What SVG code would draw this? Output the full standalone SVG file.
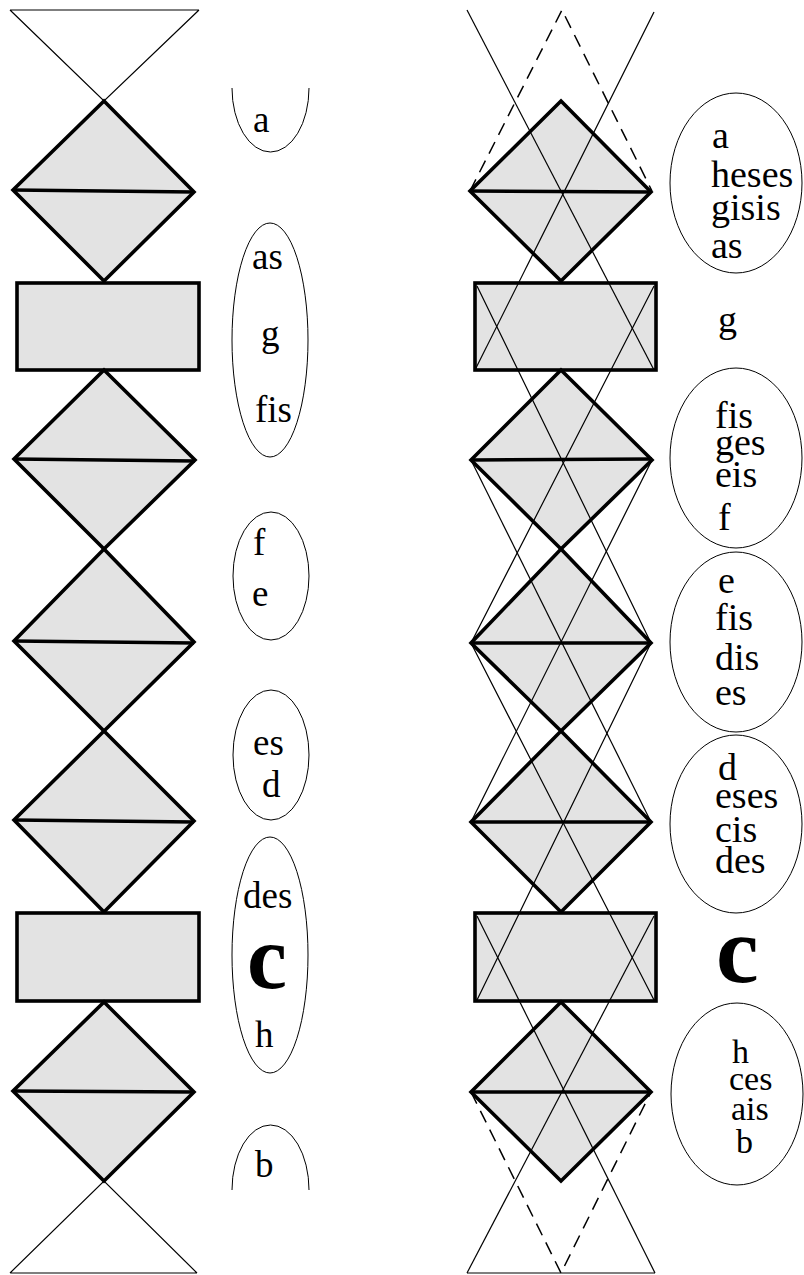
<svg xmlns="http://www.w3.org/2000/svg" width="804" height="1275" viewBox="0 0 804 1275">
<style>
.bg{fill:#ffffff}
.sh{fill:#e3e3e3;stroke:#000;stroke-width:3.6;stroke-linejoin:miter}
.mid{stroke:#000;stroke-width:3.6;fill:none}
.thin{stroke:#000;stroke-width:1.2;fill:none}
.dash{stroke:#000;stroke-width:1.5;fill:none;stroke-dasharray:13 8}
.ell{fill:#fff;stroke:#000;stroke-width:1}
.arc{fill:none;stroke:#000;stroke-width:1}
</style>
<rect class="bg" x="0" y="0" width="804" height="1275"/>

<!-- LEFT COLUMN -->
<g id="left-top-hourglass">
<path class="thin" d="M10,10 L199,10 M10,10 L104,101 L199,10"/>
</g>
<g id="left-diamond-1">
<polygon class="sh" points="104,101 194,192 104,281 13,190"/>
<line class="mid" x1="13" y1="190" x2="194" y2="192"/>
</g>
<g id="left-rect-1"><rect class="sh" x="17" y="283" width="182" height="87"/></g>
<g id="left-diamond-2">
<polygon class="sh" points="104,370 195,460 104,549 14,459"/>
<line class="mid" x1="14" y1="459" x2="195" y2="461"/>
</g>
<g id="left-diamond-3">
<polygon class="sh" points="104,549 194,642 104,731 14,641"/>
<line class="mid" x1="14" y1="641" x2="194" y2="643"/>
</g>
<g id="left-diamond-4">
<polygon class="sh" points="104,731 194,821 104,912 14,820"/>
<line class="mid" x1="14" y1="820" x2="194" y2="822"/>
</g>
<g id="left-rect-2"><rect class="sh" x="17" y="913" width="182" height="88"/></g>
<g id="left-diamond-5">
<polygon class="sh" points="104,1002 194,1092 104,1181 13,1091"/>
<line class="mid" x1="13" y1="1091" x2="194" y2="1092"/>
</g>
<g id="left-bottom-hourglass">
<path class="thin" d="M10,1273 L197,1273 M10,1273 L104,1181 L197,1273"/>
</g>

<g style="font-family:'Liberation Serif','Times New Roman',serif" font-size="37" fill="#000">
<g id="left-label-a">
<path class="arc" d="M232,88 A38.5,64 0 0 0 309,88"/>
<text x="253" y="132">a</text>
</g>
<g id="left-label-as-g-fis">
<ellipse class="ell" cx="270" cy="340" rx="38" ry="117"/>
<text x="252" y="269">as</text>
<text x="261" y="346">g</text>
<text x="255" y="422">fis</text>
</g>
<g id="left-label-f-e">
<ellipse class="ell" cx="271" cy="576" rx="38" ry="64"/>
<text x="253" y="555">f</text>
<text x="252" y="606">e</text>
</g>
<g id="left-label-es-d">
<ellipse class="ell" cx="271" cy="755" rx="38" ry="65"/>
<text x="253" y="755">es</text>
<text x="262" y="797">d</text>
</g>
<g id="left-label-des-c-h">
<ellipse class="ell" cx="270" cy="955" rx="38" ry="118"/>
<text x="243" y="908">des</text>
<text x="247" y="988" font-weight="bold" font-size="90">c</text>
<text x="255" y="1047">h</text>
</g>
<g id="left-label-b">
<path class="arc" d="M232,1190 A38.5,65 0 0 1 309,1190"/>
<text x="255" y="1177">b</text>
</g>
</g>

<!-- RIGHT COLUMN -->
<g id="right-diamond-1">
<polygon class="sh" points="561,101 651,192 561,281 470,191"/>
<line class="mid" x1="470" y1="191" x2="651" y2="192"/>
</g>
<g id="right-rect-1"><rect class="sh" x="475" y="283" width="181" height="87"/></g>
<g id="right-diamond-2">
<polygon class="sh" points="561,370 652,460 561,549 471,460"/>
<line class="mid" x1="471" y1="460" x2="652" y2="459"/>
</g>
<g id="right-diamond-3">
<polygon class="sh" points="561,549 651,643 561,731 471,643"/>
<line class="mid" x1="471" y1="643" x2="651" y2="643"/>
</g>
<g id="right-diamond-4">
<polygon class="sh" points="561,731 651,822 561,912 471,822"/>
<line class="mid" x1="471" y1="822" x2="651" y2="822"/>
</g>
<g id="right-rect-2"><rect class="sh" x="475" y="913" width="181" height="88"/></g>
<g id="right-diamond-5">
<polygon class="sh" points="561,1002 651,1092 561,1181 471,1092"/>
<line class="mid" x1="471" y1="1092" x2="651" y2="1092"/>
</g>

<g id="connectors">
<line class="thin" x1="467" y1="10" x2="654" y2="370"/>
<line class="thin" x1="654" y1="12" x2="475" y2="370"/>
<polyline class="dash" points="470,191 562,10 652,191"/>
<polyline class="thin" points="477,286 651,643 477,1000"/>
<polyline class="thin" points="654,286 471,643 654,1000"/>
<line class="thin" x1="471" y1="460" x2="651" y2="822"/>
<line class="thin" x1="652" y1="460" x2="471" y2="822"/>
<line class="thin" x1="477" y1="916" x2="655" y2="1273"/>
<line class="thin" x1="654" y1="916" x2="467" y2="1273"/>
<polyline class="dash" points="471,1092 561,1273 651,1092"/>
<line class="thin" x1="467" y1="1273" x2="655" y2="1273"/>
</g>

<g style="font-family:'Liberation Serif','Times New Roman',serif" font-size="38" fill="#000">
<g id="right-label-1">
<ellipse class="ell" cx="736" cy="183" rx="66" ry="90"/>
<text x="712" y="148">a</text>
<text x="711" y="187">heses</text>
<text x="711" y="220">gisis</text>
<text x="711" y="258">as</text>
</g>
<g id="right-label-g"><text x="718" y="332">g</text></g>
<g id="right-label-2">
<ellipse class="ell" cx="736" cy="458" rx="66" ry="90"/>
<text x="715" y="428">fis</text>
<text x="715" y="455">ges</text>
<text x="715" y="487">eis</text>
<text x="718" y="530">f</text>
</g>
<g id="right-label-3">
<ellipse class="ell" cx="736" cy="642" rx="66" ry="90"/>
<text x="718" y="593">e</text>
<text x="715" y="630">fis</text>
<text x="715" y="670">dis</text>
<text x="715" y="705">es</text>
</g>
<g id="right-label-4">
<ellipse class="ell" cx="736" cy="824" rx="66" ry="89"/>
<text x="718" y="780">d</text>
<text x="715" y="808">eses</text>
<text x="715" y="842">cis</text>
<text x="715" y="873">des</text>
</g>
<g id="right-label-c"><text x="716" y="982" font-weight="bold" font-size="96">c</text></g>
<g id="right-label-5" font-size="34">
<ellipse class="ell" cx="737" cy="1094" rx="66" ry="91"/>
<text x="732" y="1063">h</text>
<text x="729" y="1090">ces</text>
<text x="731" y="1120">ais</text>
<text x="736" y="1153">b</text>
</g>
</g>
</svg>
